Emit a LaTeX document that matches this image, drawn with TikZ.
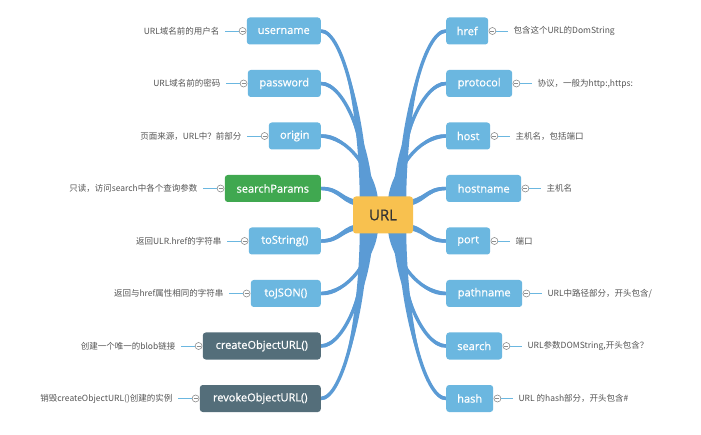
\documentclass[tikz,border=0pt]{standalone}
\usepackage{fontspec}
\setmainfont{Open Sans}
\newfontfamily\nodefont[FakeBold=0.8]{Open Sans}
\newfontfamily\cjk{Noto Sans CJK SC}
\usetikzlibrary{calc}
\definecolor{nblue}{RGB}{107,183,224}
\definecolor{ngreen}{RGB}{64,168,80}
\definecolor{ndark}{RGB}{84,110,122}
\definecolor{nyellow}{RGB}{248,193,79}
\definecolor{bblue}{RGB}{91,155,213}
\definecolor{ltext}{RGB}{85,85,85}
\definecolor{cgray}{RGB}{140,140,140}
\pgfdeclarelayer{back}
\pgfdeclarelayer{bg}
\pgfsetlayers{back,bg,main}
\tikzset{branchline/.style={draw=bblue, line width=3.4pt}}
% #1 end anchor, #2,#3 start, #4 horizontal half width at start (signed), #5 vertical half width at end (signed)
\newcommand\tapervert[5]{%
  \fill[bblue] let \p1=(#1), \p2=(#2,#3) in
  ({\x2+#4},\y2) .. controls ({\x2+#4},{(\y1+\y2)/2}) and ({(\x1+\x2)/2},{\y1+2.4*#5}) .. (\x1,{\y1+#5})
  -- (\x1,{\y1-#5}) .. controls ({(\x1+\x2)/2},{\y1-2.4*#5}) and ({\x2-#4},{(\y1+\y2)/2}) .. ({\x2-#4},\y2) -- cycle;
  \path[branchline] let \p1=(#1), \p2=(#2,#3) in
  (\x2,\y2) .. controls (\x2,{(\y1+\y2)/2}) and ({(\x1+\x2)/2},\y1) .. (\x1,\y1);}
\newcommand\tapermid[4]{%
  \fill[bblue] let \p1=(#1), \p2=(#2,#3) in
  (\x2,{\y2+#4}) .. controls ({(\x1+\x2)/2},{\y2+#4}) and ({(\x1+\x2)/2},{\y1+2.4pt}) .. (\x1,{\y1+1.6pt})
  -- (\x1,{\y1-1.6pt}) .. controls ({(\x1+\x2)/2},{\y1-2.4pt}) and ({(\x1+\x2)/2},{\y2-#4}) .. (\x2,{\y2-#4}) -- cycle;
  \path[branchline] let \p1=(#1), \p2=(#2,#3) in
  (\x2,\y2) .. controls ({(\x1+\x2)/2},\y2) and ({(\x1+\x2)/2},\y1) .. (\x1,\y1);}
\tikzset{
  item/.style={rounded corners=3pt, minimum height=27pt, inner sep=0pt, text=white,
    font=\nodefont\fontsize{11}{13}\selectfont},
  itb/.style={item, fill=nblue},
  itg/.style={item, fill=ngreen},
  itd/.style={item, fill=ndark},
  lbl/.style={font=\cjk\fontsize{8.5}{10}\selectfont, text=ltext, inner xsep=5pt, inner ysep=1pt},
  circ/.style={circle, draw=cgray, fill=white, line width=0.6pt, minimum size=7pt, inner sep=0pt,
    path picture={\draw[cgray, line width=0.5pt] ([xshift=-2pt]path picture bounding box.center) -- ([xshift=2pt]path picture bounding box.center);}},
  lline/.style={draw=nblue, line width=0.9pt}
}
\begin{document}
\begin{tikzpicture}[x=1pt,y=-1pt]
\useasboundingbox (0,0) rectangle (701,435);
\begin{pgfonlayer}{back}
\fill[white] (0,0) rectangle (701,435);
\end{pgfonlayer}
% centre
\node[rounded corners=3pt, fill=nyellow, minimum width=60pt, minimum height=37pt, inner sep=0pt,
  font=\nodefont\fontsize{15}{17}\selectfont, text={rgb,255:red,51;green,51;blue,51}] (url) at (383,215) {URL};
% left nodes
\node[itb, minimum width=74pt, anchor=east] (username) at (321,31) {username};
\node[itb, minimum width=73pt, anchor=east] (password) at (321,83.5) {password};
\node[itb, minimum width=52pt, anchor=east] (origin) at (321,136) {origin};
\node[itg, minimum width=96pt, anchor=east] (searchParams) at (321,188.5) {searchParams};
\node[itb, minimum width=72pt, anchor=east] (toString) at (321,241) {toString()};
\node[itb, minimum width=70pt, anchor=east] (toJSON) at (321,293.5) {toJSON()};
\node[itd, minimum width=118pt, anchor=east] (create) at (321,346) {createObjectURL()};
\node[itd, minimum width=121pt, anchor=east] (revoke) at (321,398.5) {revokeObjectURL()};
% right nodes
\node[itb, minimum width=42pt, anchor=west] (href) at (446,31) {href};
\node[itb, minimum width=66pt, anchor=west] (protocol) at (446,83.5) {protocol};
\node[itb, minimum width=44pt, anchor=west] (host) at (446,136) {host};
\node[itb, minimum width=75pt, anchor=west] (hostname) at (446,188.5) {hostname};
\node[itb, minimum width=44pt, anchor=west] (port) at (446,241) {port};
\node[itb, minimum width=76pt, anchor=west] (pathname) at (446,293.5) {pathname};
\node[itb, minimum width=56pt, anchor=west] (search) at (446,346) {search};
\node[itb, minimum width=47pt, anchor=west] (hash) at (446,398.5) {hash};
% left labels
\foreach \n/\t in {username/{URL域名前的用户名}, password/{URL域名前的密码}, origin/{页面来源，URL中？前部分},
  searchParams/{只读，访问search中各个查询参数}, toString/{返回ULR.href的字符串}, toJSON/{返回与href属性相同的字符串},
  create/{创建一个唯一的blob链接}, revoke/{销毁createObjectURL()创建的实例}}{
  \node[circ] (c\n) at ([xshift=-4pt]\n.west) {};
  \node[lbl, anchor=east] (l\n) at ([xshift=-22pt]\n.west) {\t};
  \draw[lline] (c\n.west) -- (l\n.east);
}
% right labels
\foreach \n/\t in {href/{包含这个URL的DomString}, protocol/{协议，一般为http:,https:}, host/{主机名，包括端口},
  hostname/{主机名}, port/{端口}, pathname/{URL中路径部分，开头包含/}, search/{URL参数DOMString,开头包含？},
  hash/{URL 的hash部分，开头包含\#}}{
  \node[circ] (c\n) at ([xshift=4pt]\n.east) {};
  \node[lbl, anchor=west] (l\n) at ([xshift=20pt]\n.east) {\t};
  \draw[lline] (c\n.east) -- (l\n.west);
}
% branches
\begin{pgfonlayer}{bg}
\tapervert{username.east}{364}{205}{-4.2pt}{1.6pt}
\tapervert{password.east}{369}{205}{-4.2pt}{1.6pt}
\tapervert{origin.east}{374}{205}{-4.2pt}{1.6pt}
\tapervert{href.west}{402}{205}{4.2pt}{1.6pt}
\tapervert{protocol.west}{397}{205}{4.2pt}{1.6pt}
\tapervert{host.west}{392}{205}{4.2pt}{1.6pt}
\tapervert{toJSON.east}{374}{225}{-4.2pt}{-1.6pt}
\tapervert{create.east}{369}{225}{-4.2pt}{-1.6pt}
\tapervert{revoke.east}{364}{225}{-4.2pt}{-1.6pt}
\tapervert{pathname.west}{392}{225}{4.2pt}{-1.6pt}
\tapervert{search.west}{397}{225}{4.2pt}{-1.6pt}
\tapervert{hash.west}{402}{225}{4.2pt}{-1.6pt}
\tapermid{searchParams.east}{362}{203}{3pt}
\tapermid{toString.east}{362}{227}{3pt}
\tapermid{hostname.west}{404}{203}{3pt}
\tapermid{port.west}{404}{227}{3pt}
\end{pgfonlayer}
\end{tikzpicture}
\end{document}
